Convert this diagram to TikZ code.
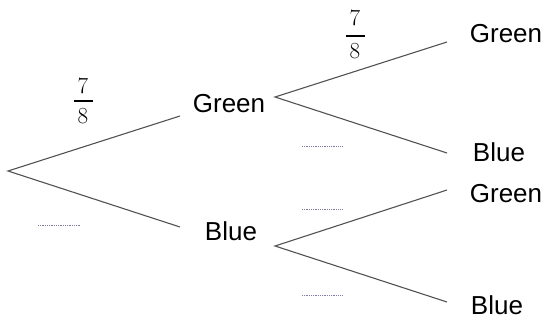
\documentclass[tikz,border=0pt]{standalone}
\usepackage{fontspec}
\newfontfamily\labfont{Liberation Sans}
\begin{document}
\begin{tikzpicture}[x=1pt,y=-1pt,
  branch/.style={draw=black!68, line width=1.1pt},
  blank/.style={draw={rgb,255:red,125;green,125;blue,165}, line width=0.7pt, dash pattern=on 0.9pt off 0.9pt},
  lab/.style={font=\labfont\fontsize{26}{30}\selectfont, inner sep=0pt, anchor=base},
  digit/.style={font=\fontsize{23}{27}\selectfont\addfontfeatures{FakeBold=0.6}, inner sep=0pt},
  fracbar/.style={draw=black, line width=1.2pt}]
\useasboundingbox (0,0) rectangle (548,321);
% branch points
\coordinate (r) at (8,171);
\coordinate (g1end) at (180,116);
\coordinate (b1end) at (180,227);
\coordinate (gA) at (275,97);
\coordinate (bA) at (275,246);
\coordinate (ggend) at (447,42);
\coordinate (gbend) at (447,153);
\coordinate (bgend) at (447,190);
\coordinate (bbend) at (447,302);
% labels
\node[lab] (g1) at (229,112) {Green};
\node[lab] (b1) at (231,240) {Blue};
\node[lab] (gg) at (506,42) {Green};
\node[lab] (gb) at (499,161) {Blue};
\node[lab] (bg) at (506,202) {Green};
\node[lab] (bb) at (497,314) {Blue};
% probabilities
\node[digit] (p1n) at (83,86) {7};
\node[digit] (p1d) at (83,116) {8};
\coordinate (p1l) at (73.5,101); \coordinate (p1r) at (92.5,101);
\draw[fracbar] (p1l) -- (p1r);
\node[digit] (p2n) at (355,18) {7};
\node[digit] (p2d) at (355,51) {8};
\coordinate (p2l) at (345.5,36); \coordinate (p2r) at (364.5,36);
\draw[fracbar] (p2l) -- (p2r);
% branches
\draw[branch] (g1end) -- (r) -- (b1end);
\draw[branch] (ggend) -- (gA) -- (gbend);
\draw[branch] (bgend) -- (bA) -- (bbend);
% blanks
\coordinate (d1a) at (38,225); \coordinate (d1b) at (80,225);
\coordinate (d2a) at (302,146); \coordinate (d2b) at (343,146);
\coordinate (d3a) at (302,209); \coordinate (d3b) at (343,209);
\coordinate (d4a) at (302,295); \coordinate (d4b) at (343,295);
\draw[blank] (d1a) -- (d1b);
\draw[blank] (d2a) -- (d2b);
\draw[blank] (d3a) -- (d3b);
\draw[blank] (d4a) -- (d4b);
\end{tikzpicture}
\end{document}
